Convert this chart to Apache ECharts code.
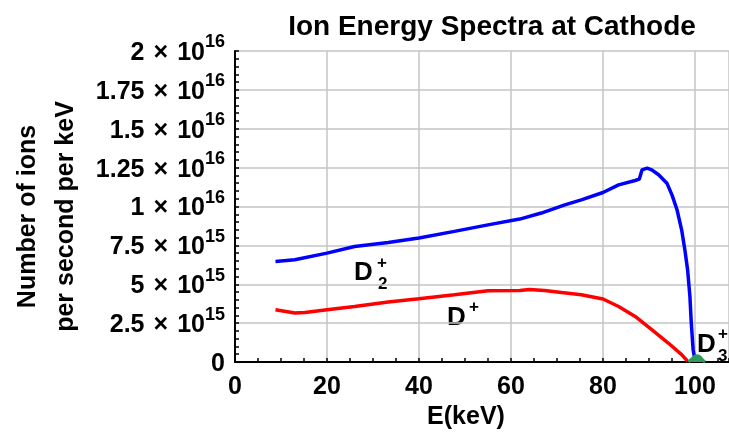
<!DOCTYPE html>
<html>
<head>
<meta charset="utf-8">
<script src="https://cdn.jsdelivr.net/npm/echarts@6/dist/echarts.min.js"></script>
<style>
  html, body { margin: 0; padding: 0; background: #ffffff; }
  #chart { width: 729px; height: 434px; }
</style>
</head>
<body>
<div id="chart"></div>
<script>
// Ion energy (keV) and flux (units of 1e15 ions per second per keV)
const energyD2 = [8.8, 13, 20, 26, 33.3, 40, 47.7, 55, 61.9, 66.6, 71.7, 75.3, 80, 83.4, 87, 87.9,
                  88.5, 89.6, 90.6, 92.1, 93.9, 95, 96.1, 97.1, 97.8, 98.4, 98.9, 99.2, 99.6, 99.9];
const fluxD2   = [6.46, 6.57, 7.0, 7.43, 7.69, 7.97, 8.4, 8.82, 9.19, 9.58, 10.1, 10.43, 10.9, 11.39, 11.67, 11.76,
                  12.36, 12.47, 12.36, 12.04, 11.5, 10.75, 9.79, 8.5, 7.22, 5.93, 4.22, 2.5, 0.79, 0.3];

const energyD1 = [8.8, 13, 15.2, 20, 26, 33.3, 40, 47.7, 55, 61.9, 64, 67.3, 71, 75.3, 80, 83.4,
                  87, 90.6, 94.2, 97.1, 98.4];
const fluxD1   = [3.36, 3.15, 3.19, 3.36, 3.57, 3.86, 4.07, 4.33, 4.58, 4.6, 4.66, 4.6, 4.47, 4.33, 4.05, 3.57,
                  2.93, 2.08, 1.22, 0.47, 0.05];

const energyD3 = [98.6, 99.5, 100.3, 101, 101.6, 102.2];
const fluxD3   = [0, 0.25, 0.4, 0.35, 0.15, 0];

// Axis ticks and their labels
const xTicks = [0, 20, 40, 60, 80, 100];
const yTickMantissa = ['0', '2.5', '5', '7.5', '1', '1.25', '1.5', '1.75', '2'];
const yTickExponent = ['', '15', '15', '15', '16', '16', '16', '16', '16'];

const FONT = "'Liberation Sans', Arial, Helvetica, sans-serif";
const TIMES = ' \u200a\u00d7 \u200a';

function pairs(xs, ys) {
  return xs.map((x, i) => [x, ys[i]]);
}

const chart = echarts.init(document.getElementById('chart'), null, { renderer: 'canvas' });

const option = {
  backgroundColor: '#ffffff',
  animation: false,
  title: {
    text: 'Ion Energy Spectra at Cathode',
    left: 487,
    textAlign: 'center',
    top: 8,
    textStyle: { fontFamily: FONT, fontWeight: 'bold', fontSize: 28, color: '#000' }
  },
  grid: { left: 235, top: 51, right: 0, bottom: 72, containLabel: false, outerBoundsMode: 'none' },
  xAxis: [{
    type: 'value',
    min: 0,
    max: 107.4,
    interval: 20,
    name: 'E(keV)',
    nameLocation: 'middle',
    nameGap: 42,
    nameTextStyle: { fontFamily: FONT, fontWeight: 'bold', fontSize: 25, color: '#000', padding: [0, 32, 0, 0] },
    axisLine: { show: true, onZero: false, lineStyle: { color: '#000', width: 2 } },
    axisTick: { show: true, inside: true, length: 4, lineStyle: { color: '#000', width: 1.5 } },
    minorTick: { show: true, splitNumber: 4, length: 4, lineStyle: { color: '#000', width: 1.5 } },
    splitLine: { show: true, lineStyle: { color: '#c4c4c4', width: 1.5 } },
    axisLabel: {
      show: true,
      margin: 13,
      showMaxLabel: false,
      fontFamily: FONT, fontWeight: 'bold', fontSize: 25, color: '#000',
      formatter: v => (xTicks.indexOf(v) >= 0 ? String(v) : '')
    }
  }, {
    type: 'value',
    position: 'top',
    min: 0,
    max: 1,
    axisLine: { show: true, lineStyle: { color: '#000', width: 2 } },
    axisTick: { show: false },
    axisLabel: { show: false },
    splitLine: { show: false }
  }],
  yAxis: {
    type: 'value',
    min: 0,
    max: 20,
    interval: 2.5,
    name: 'Number of ions\nper second per keV',
    nameLocation: 'middle',
    nameRotate: 90,
    nameGap: 148,
    nameTextStyle: {
      fontFamily: FONT, fontWeight: 'bold', fontSize: 25, lineHeight: 38, color: '#000',
      align: 'center', padding: [0, 20, 0, 0]
    },
    axisLine: { show: true, onZero: false, lineStyle: { color: '#000', width: 2 } },
    axisTick: { show: true, inside: true, length: 4, lineStyle: { color: '#000', width: 1.5 } },
    minorTick: { show: true, splitNumber: 5, length: 4, lineStyle: { color: '#000', width: 1.5 } },
    splitLine: { show: true, lineStyle: { color: '#c4c4c4', width: 1.5 } },
    axisLabel: {
      show: true,
      margin: 10,
      padding: [0, 0, 9, 0],
      formatter: function (v) {
        const i = Math.round(v / 2.5);
        if (Math.abs(v - i * 2.5) > 1e-6) return '';
        if (!yTickExponent[i]) return '{m|' + yTickMantissa[i] + '}';
        return '{m|' + yTickMantissa[i] + TIMES + '10}{e|' + yTickExponent[i] + '}';
      },
      rich: {
        m: { fontFamily: FONT, fontWeight: 'bold', fontSize: 25, lineHeight: 26, padding: [7, 0, 0, 0], verticalAlign: 'top', color: '#000' },
        e: { fontFamily: FONT, fontWeight: 'bold', fontSize: 18, lineHeight: 18, verticalAlign: 'top', color: '#000' }
      }
    }
  },
  series: [{
    name: 'D2+',
    type: 'line',
    data: pairs(energyD2, fluxD2),
    showSymbol: false,
    smooth: false,
    lineStyle: { color: '#0000ff', width: 3.5 },
    itemStyle: { color: '#0000ff' },
    z: 3
  }, {
    name: 'D+',
    type: 'line',
    data: pairs(energyD1, fluxD1),
    showSymbol: false,
    smooth: false,
    lineStyle: { color: '#ff0000', width: 3.5 },
    itemStyle: { color: '#ff0000' },
    z: 2
  }, {
    name: 'D3+',
    type: 'line',
    data: pairs(energyD3, fluxD3),
    showSymbol: false,
    smooth: true,
    lineStyle: { color: '#2f9a5c', width: 3 },
    areaStyle: { color: '#2f9a5c', opacity: 1 },
    itemStyle: { color: '#2f9a5c' },
    z: 4
  }],
  graphic: [
    // D2+ label
    { type: 'text', left: 354, top: 260, style: { text: 'D', font: 'bold 26px ' + FONT, fill: '#000' } },
    { type: 'text', left: 377, top: 255, style: { text: '+', font: 'bold 17px ' + FONT, fill: '#000' } },
    { type: 'text', left: 378, top: 276, style: { text: '2', font: 'bold 17px ' + FONT, fill: '#000' } },
    // D+ label
    { type: 'text', left: 447, top: 305, style: { text: 'D', font: 'bold 26px ' + FONT, fill: '#000' } },
    { type: 'text', left: 469, top: 299, style: { text: '+', font: 'bold 17px ' + FONT, fill: '#000' } },
    // D3+ label
    { type: 'text', left: 697, top: 332, style: { text: 'D', font: 'bold 26px ' + FONT, fill: '#000' } },
    { type: 'text', left: 718, top: 326, style: { text: '+', font: 'bold 17px ' + FONT, fill: '#000' } },
    { type: 'text', left: 718, top: 348, style: { text: '3', font: 'bold 17px ' + FONT, fill: '#000' } }
  ]
};

chart.setOption(option);
</script>
</body>
</html>
